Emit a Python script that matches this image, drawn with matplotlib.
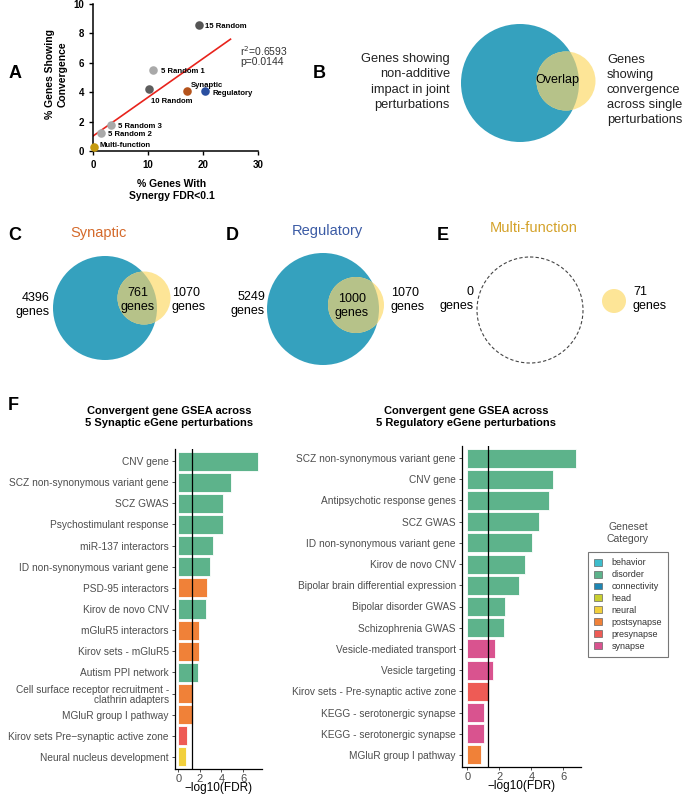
import matplotlib
matplotlib.use('Agg')
import matplotlib.pyplot as plt
import matplotlib.patches as mplpatches
import numpy as np

plt.rcParams['font.family'] = ['Liberation Sans', 'DejaVu Sans']

# ---------------- data ----------------
# panel A
groupNames = ['15 Random', '5 Random 1', '10 Random', 'Synaptic', 'Regulatory',
              '5 Random 3', '5 Random 2', 'Multi-function']
synergyPct = [19.3, 10.9, 10.1, 17.0, 20.4, 3.2, 1.4, 0.1]
convergePct = [8.6, 5.5, 4.2, 4.1, 4.1, 1.8, 1.25, 0.3]
rSquared = 0.6593
pValue = 0.0144

# panels C-E
vennTitles = ['Synaptic', 'Regulatory', 'Multi-function']
nonAdditiveOnly = [4396, 5249, 0]
overlapGenes = [761, 1000, 0]
convergentGenes = [1070, 1070, 71]

# panel F
synTerms = ['CNV gene', 'SCZ non-synonymous variant gene', 'SCZ GWAS',
            'Psychostimulant response', 'miR-137 interactors',
            'ID non-synonymous variant gene', 'PSD-95 interactors',
            'Kirov de novo CNV', 'mGluR5 interactors', 'Kirov sets - mGluR5',
            'Autism PPI network',
            'Cell surface receptor recruitment -\nclathrin adapters',
            'MGluR group I pathway', 'Kirov sets Pre\u2212synaptic active zone',
            'Neural nucleus development']
synScores = [7.4, 4.9, 4.1, 4.1, 3.2, 2.9, 2.7, 2.55, 1.9, 1.9, 1.85, 1.38, 1.38, 0.85, 0.75]
synCats = ['disorder', 'disorder', 'disorder', 'disorder', 'disorder', 'disorder',
           'postsynapse', 'disorder', 'postsynapse', 'postsynapse', 'disorder',
           'postsynapse', 'postsynapse', 'presynapse', 'neural']

regTerms = ['SCZ non-synonymous variant gene', 'CNV gene', 'Antipsychotic response genes',
            'SCZ GWAS', 'ID non-synonymous variant gene', 'Kirov de novo CNV',
            'Bipolar brain differential expression', 'Bipolar disorder GWAS',
            'Schizophrenia GWAS', 'Vesicle-mediated transport', 'Vesicle targeting',
            'Kirov sets - Pre-synaptic active zone', 'KEGG - serotonergic synapse',
            'KEGG - serotonergic synapse', 'MGluR group I pathway']
regScores = [6.8, 5.35, 5.1, 4.45, 4.05, 3.6, 3.25, 2.35, 2.3, 1.7, 1.6, 1.38, 1.07, 1.07, 0.85]
regCats = ['disorder'] * 9 + ['synapse', 'synapse', 'presynapse', 'synapse', 'synapse', 'postsynapse']

legendCats = ['behavior', 'disorder', 'connectivity', 'head', 'neural',
              'postsynapse', 'presynapse', 'synapse']
catColors = {'behavior': '#3dbdcc', 'disorder': '#5db38b', 'connectivity': '#1f86b3',
             'head': '#c9cf30', 'neural': '#f2d03c', 'postsynapse': '#f08138',
             'presynapse': '#ee5b55', 'synapse': '#d9538f'}

# ---------------- styles ----------------
pointColors = ['#555555', '#a9a9a9', '#5e5e5e', '#b5541c', '#2a4fa0',
               '#a9a9a9', '#a9a9a9', '#c59a10']
labelOffsets = [(1.1, -0.14), (1.4, -0.06), (0.4, -0.85), (0.76, 0.34),
                (1.3, -0.2), (1.4, -0.1), (1.4, -0.1), (1.05, 0.06)]
vennBlue = '#35a1be'
vennYellow = '#fde597'
vennOverlap = '#b6c289'
titleColors = ['#d46a2b', '#3b5ba5', '#d4a22a']
axisGray = '#4d4d4d'

W, H = 685, 795
fig = plt.figure(figsize=(W / 100, H / 100), dpi=100)


def box(l, t, r, b):
    return [l / W, 1 - b / H, (r - l) / W, (b - t) / H]


canvas = fig.add_axes([0, 0, 1, 1])
canvas.set_xlim(0, W)
canvas.set_ylim(H, 0)
canvas.axis('off')

# panel letters
for letter, (lx, ly) in zip('ABCDEF', [(9, 74), (313, 73), (8, 235), (226, 235), (437, 235), (8, 406)]):
    canvas.text(lx, ly, letter, fontsize=13, fontweight='bold', ha='left', va='center')

# ---------------- panel A ----------------
panelA = fig.add_axes(box(93, 4, 258, 151))
slope, intercept = np.polyfit(synergyPct, convergePct, 1)
lineX = np.array([0, 25])
panelA.plot(lineX, slope * lineX + intercept, color='#e8231c', lw=1.2, zorder=2)
for i in range(len(groupNames)):
    panelA.scatter(synergyPct[i], convergePct[i], s=38, color=pointColors[i],
                   zorder=3, clip_on=False, linewidths=0)
    dx, dy = labelOffsets[i]
    panelA.text(synergyPct[i] + dx, convergePct[i] + dy, groupNames[i], fontsize=5.6,
                fontweight='bold', ha='left', va='center')
panelA.text(26.8, 6.82, 'r$^2$=%.4f' % rSquared, fontsize=7.5, color='#333333', va='center')
panelA.text(26.8, 6.03, 'p=%.4f' % pValue, fontsize=7.5, color='#333333', va='center')
panelA.set_xlim(0, 30)
panelA.set_ylim(0, 10)
panelA.set_xticks([0, 10, 20, 30])
panelA.set_yticks([0, 2, 4, 6, 8, 10])
for lab in panelA.get_xticklabels() + panelA.get_yticklabels():
    lab.set_fontweight('bold')
panelA.tick_params(labelsize=7, length=3, width=1)
panelA.spines['top'].set_visible(False)
panelA.spines['right'].set_visible(False)
panelA.spines['left'].set_linewidth(1.1)
panelA.spines['bottom'].set_linewidth(1.1)
canvas.text(56, 74, '% Genes Showing\nConvergence', rotation=90, fontsize=7.5,
            fontweight='bold', ha='center', va='center', linespacing=1.3)
canvas.text(172, 190, '% Genes With\nSynergy FDR<0.1', fontsize=7.5,
            fontweight='bold', ha='center', va='center', linespacing=1.35)

# ---------------- panel B ----------------
bBlue = mplpatches.Circle((520, 83), 59, facecolor=vennBlue, edgecolor='none')
bYellow = mplpatches.Circle((566, 81), 29.5, facecolor=vennYellow, edgecolor='none')
bOver = mplpatches.Circle((566, 81), 29.5, facecolor=vennOverlap, edgecolor='none')
for p in (bBlue, bYellow, bOver):
    canvas.add_patch(p)
bOver.set_clip_path(bBlue)
canvas.text(557, 80, 'Overlap', fontsize=9, ha='center', va='center')
canvas.text(450, 82, 'Genes showing\nnon-additive\nimpact in joint\nperturbations',
            fontsize=9.3, ha='right', va='center', linespacing=1.35, color='#222222')
canvas.text(607, 90, 'Genes\nshowing\nconvergence\nacross single\nperturbations',
            fontsize=9.3, ha='left', va='center', linespacing=1.35, color='#222222')

# ---------------- panels C, D, E ----------------
bigCircles = [(105, 308, 52), (323, 309, 56), (530, 310, 53)]
smallCircles = [(144, 298, 26.5), (356, 305, 28), (614, 301, 12)]
titlePos = [(99, 233), (327, 231), (534, 228)]
leftTextPos = [(50, 305), (265, 304), (474, 299)]
overlapTextPos = [(138, 300), (352, 306), None]
rightTextPos = [(172, 300), (391, 300), (633, 299)]

for i in range(3):
    bx, by, br = bigCircles[i]
    sx, sy, sr = smallCircles[i]
    if nonAdditiveOnly[i] + overlapGenes[i] > 0:
        big = mplpatches.Circle((bx, by), br, facecolor=vennBlue, edgecolor='none')
    else:
        big = mplpatches.Circle((bx, by), br, fill=False, edgecolor='#444444',
                                linestyle=(0, (3, 2)), lw=0.8)
    canvas.add_patch(big)
    small = mplpatches.Circle((sx, sy), sr, facecolor=vennYellow, edgecolor='none')
    canvas.add_patch(small)
    if overlapGenes[i] > 0:
        over = mplpatches.Circle((sx, sy), sr, facecolor=vennOverlap, edgecolor='none')
        canvas.add_patch(over)
        over.set_clip_path(big)
        ox, oy = overlapTextPos[i]
        canvas.text(ox, oy, '%d\ngenes' % overlapGenes[i], fontsize=9,
                    ha='center', va='center', linespacing=1.3)
    canvas.text(titlePos[i][0], titlePos[i][1], vennTitles[i], fontsize=10.5,
                color=titleColors[i], ha='center', va='center')
    canvas.text(leftTextPos[i][0], leftTextPos[i][1], '%d\ngenes' % nonAdditiveOnly[i],
                fontsize=9, ha='right', va='center', linespacing=1.3)
    canvas.text(rightTextPos[i][0], rightTextPos[i][1], '%d\ngenes' % convergentGenes[i],
                fontsize=9, ha='left', va='center', linespacing=1.3)


# ---------------- panel F ----------------
def drawGsea(ax, terms, scores, cats, xlim, title, titleX):
    ypos = np.arange(len(terms))
    ax.barh(ypos, scores, height=0.9, color=[catColors[c] for c in cats],
            edgecolor='white', linewidth=0.6, zorder=2)
    ax.axvline(-np.log10(0.05), color='black', lw=0.9, zorder=3)
    ax.set_yticks(ypos)
    ax.set_yticklabels(terms, fontsize=7.3, color=axisGray, linespacing=1.1)
    ax.set_ylim(len(terms) - 0.43, -0.57)
    ax.set_xlim(*xlim)
    ax.set_xticks([0, 2, 4, 6])
    ax.tick_params(axis='x', labelsize=8, labelcolor=axisGray, length=2.5, width=0.6,
                   color='#333333', pad=1)
    ax.tick_params(axis='y', length=2.5, width=0.6, color='#333333', pad=2)
    ax.set_xlabel('\u2212log10(FDR)', fontsize=8.5, labelpad=-1)
    ax.spines['top'].set_visible(False)
    ax.spines['right'].set_visible(False)
    ax.spines['left'].set_linewidth(0.9)
    ax.spines['bottom'].set_linewidth(0.9)
    canvas.text(titleX, 417, title, fontsize=8, fontweight='bold', ha='center',
                va='center', linespacing=1.3)


panelF1 = fig.add_axes(box(175, 449, 262, 769))
drawGsea(panelF1, synTerms, synScores, synCats, (-0.3, 7.75),
         'Convergent gene GSEA across\n5 Synaptic eGene perturbations', 169)
panelF2 = fig.add_axes(box(462, 446, 581, 767))
drawGsea(panelF2, regTerms, regScores, regCats, (-0.33, 7.1),
         'Convergent gene GSEA across\n5 Regulatory eGene perturbations', 466)

handles = [mplpatches.Patch(facecolor=catColors[c], edgecolor='#666666', linewidth=0.5, label=c)
           for c in legendCats]
leg = fig.legend(handles=handles, loc='upper left', bbox_to_anchor=(588 / W, 1 - 552 / H),
                 fontsize=6.5, frameon=True, fancybox=False, edgecolor='#555555',
                 handlelength=0.8, handleheight=0.8, handletextpad=1.1,
                 labelspacing=0.32, borderpad=0.7, borderaxespad=0)
leg.get_frame().set_linewidth(0.8)
for t in leg.get_texts():
    t.set_color('#333333')
canvas.text(628, 533, 'Geneset\nCategory', fontsize=7.5, color=axisGray,
            ha='center', va='center', linespacing=1.2)

plt.savefig('out.png', dpi=100)
